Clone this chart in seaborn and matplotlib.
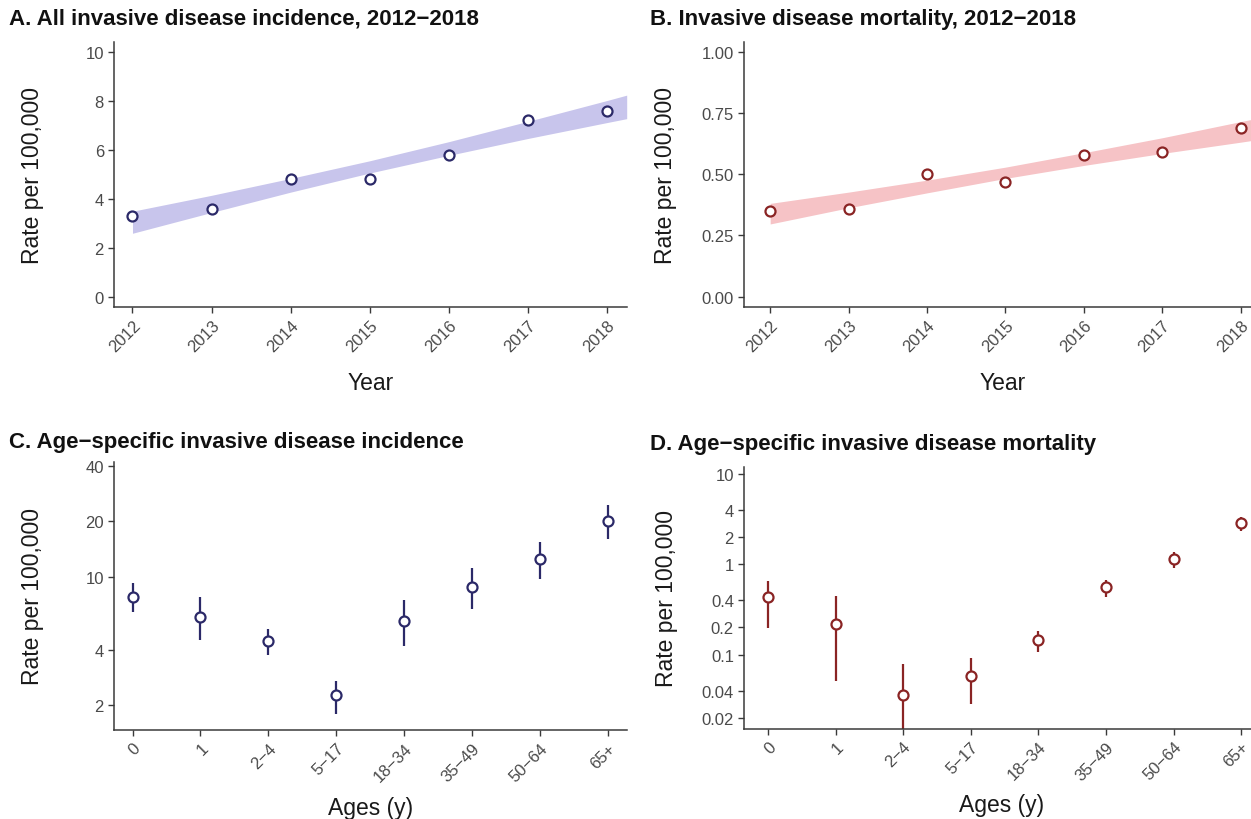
import numpy as np
import pandas as pd
import seaborn as sns
import matplotlib.pyplot as plt

# yearly rates per 100,000
years = [2012, 2013, 2014, 2015, 2016, 2017, 2018]
inc_rate = [3.3, 3.6, 4.8, 4.8, 5.8, 7.2, 7.6]
mort_rate = [0.35, 0.36, 0.50, 0.47, 0.58, 0.59, 0.69]

# trend ribbons
band_years = [2012, 2013, 2014, 2015, 2016, 2017, 2018, 2018.25]
inc_lo = [2.59, 3.44, 4.27, 5.05, 5.77, 6.46, 7.11, 7.27]
inc_hi = [3.49, 4.14, 4.83, 5.55, 6.33, 7.16, 8.01, 8.23]
mort_lo = [0.297, 0.363, 0.424, 0.483, 0.536, 0.585, 0.631, 0.643]
mort_hi = [0.381, 0.427, 0.476, 0.529, 0.588, 0.649, 0.715, 0.731]

# age-specific rates with intervals
ages = ['0', '1', '2−4', '5−17', '18−34', '35−49', '50−64', '65+']
age_inc = [7.8, 6.05, 4.45, 2.27, 5.73, 8.8, 12.5, 20.0]
age_inc_lo = [6.4, 4.54, 3.76, 1.80, 4.18, 6.64, 9.7, 16.0]
age_inc_hi = [9.2, 7.8, 5.18, 2.72, 7.43, 11.1, 15.4, 24.6]
age_mort = [0.433, 0.218, 0.0354, 0.0577, 0.145, 0.553, 1.135, 2.83]
age_mort_lo = [0.197, 0.0504, 0.005, 0.0286, 0.108, 0.433, 0.91, 2.34]
age_mort_hi = [0.66, 0.443, 0.078, 0.0914, 0.181, 0.675, 1.37, 3.3]

navy = '#2b2968'
red = '#8a2424'
lavender = '#c8c5ec'
pink = '#f6c3c6'

sns.set_theme(style='ticks')
plt.rcParams['font.family'] = ['Liberation Sans', 'DejaVu Sans']

W, H = 1251, 820
fig = plt.figure(figsize=(W / 100, H / 100), dpi=100)


def add_axes(left, right, top, bottom):
    return fig.add_axes([left / W, 1 - bottom / H, (right - left) / W, (bottom - top) / H])


def style(ax, xlabel, ylx, xly):
    for s in ['top', 'right']:
        ax.spines[s].set_visible(False)
    for s in ['left', 'bottom']:
        ax.spines[s].set_color('#3a3a3a')
        ax.spines[s].set_linewidth(1.1)
    ax.tick_params(axis='both', which='major', direction='out', length=4, width=1,
                   color='#3a3a3a', labelcolor='#4a4a4a', labelsize=12)
    ax.tick_params(axis='both', which='minor', length=0)
    ax.set_xlabel(xlabel, fontsize=16.5, color='#1a1a1a')
    ax.set_ylabel('Rate per 100,000', fontsize=16.5, color='#1a1a1a')
    ax.yaxis.set_label_coords(ylx, 0.5)
    ax.xaxis.set_label_coords(0.5, xly)
    for lab in ax.get_xticklabels():
        lab.set_rotation(45)
        lab.set_ha('right')
        lab.set_rotation_mode('anchor')


def trend_panel(ax, rate, lo, hi, band_col, edge, ylim, yticks, ytl, xlim, ylx):
    ax.fill_between(band_years, lo, hi, color=band_col, lw=0, zorder=1)
    df = pd.DataFrame({'year': years, 'rate': rate})
    sns.scatterplot(data=df, x='year', y='rate', ax=ax, s=52, color='white',
                    edgecolor=edge, linewidth=1.6, zorder=3)
    ax.set_xlim(*xlim)
    ax.set_ylim(*ylim)
    ax.set_xticks(years)
    ax.set_xticklabels([str(y) for y in years])
    ax.set_yticks(yticks)
    ax.set_yticklabels(ytl)
    style(ax, 'Year', ylx, -0.245)


def age_panel(ax, est, lo, hi, col, ylim, yticks, ytl, xlim, ylx):
    pos = np.arange(len(ages))
    ax.vlines(pos, lo, hi, color=col, lw=1.6, zorder=2)
    df = pd.DataFrame({'pos': pos, 'rate': est})
    sns.scatterplot(data=df, x='pos', y='rate', ax=ax, s=52, color='white',
                    edgecolor=col, linewidth=1.6, zorder=3)
    ax.set_yscale('log')
    ax.set_xlim(*xlim)
    ax.set_ylim(*ylim)
    ax.set_xticks(pos)
    ax.set_xticklabels(ages)
    ax.set_yticks(yticks)
    ax.set_yticklabels(ytl)
    ax.yaxis.set_minor_locator(plt.NullLocator())
    style(ax, 'Ages (y)', ylx, -0.245)


axA = add_axes(114.3, 626.7, 43, 307.5)
trend_panel(axA, inc_rate, inc_lo, inc_hi, lavender, navy, (-0.4, 10.4),
            [0, 2, 4, 6, 8, 10], ['0', '2', '4', '6', '8', '10'], (2011.77, 2018.25), -0.137)

axB = add_axes(744.3, 1260.3, 43, 307.5)
trend_panel(axB, mort_rate, mort_lo, mort_hi, pink, red, (-0.04, 1.04),
            [0, 0.25, 0.5, 0.75, 1.0], ['0.00', '0.25', '0.50', '0.75', '1.00'],
            (2011.67, 2018.25), -0.13)

axC = add_axes(114.3, 626.7, 463, 731)
age_panel(axC, age_inc, age_inc_lo, age_inc_hi, navy, (1.47, 42),
          [2, 4, 10, 20, 40], ['2', '4', '10', '20', '40'], (-0.27, 7.28), -0.137)

axD = add_axes(744.3, 1258, 468, 729.5)
age_panel(axD, age_mort, age_mort_lo, age_mort_hi, red, (0.0152, 11.9),
          [0.02, 0.04, 0.1, 0.2, 0.4, 1, 2, 4, 10],
          ['0.02', '0.04', '0.1', '0.2', '0.4', '1', '2', '4', '10'], (-0.35, 7.25), -0.13)

titles = [(9, 19, 'A. All invasive disease incidence, 2012−2018'),
          (650, 19, 'B. Invasive disease mortality, 2012−2018'),
          (9, 443, 'C. Age−specific invasive disease incidence'),
          (650, 445, 'D. Age−specific invasive disease mortality')]
for x, y, t in titles:
    fig.text(x / W, 1 - y / H, t, fontsize=16, fontweight='bold', color='#111111',
             ha='left', va='center')

fig.savefig('out.png', dpi=100)
